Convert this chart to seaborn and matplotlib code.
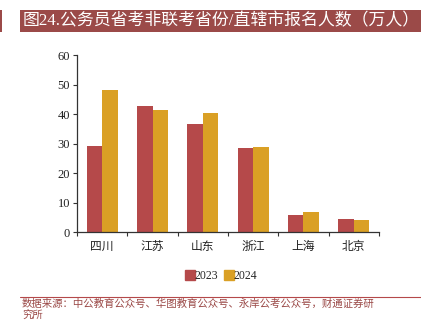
import matplotlib
matplotlib.use("Agg")
import matplotlib.pyplot as plt
from matplotlib.patches import Rectangle
from matplotlib.lines import Line2D
import seaborn as sns
import pandas as pd

provinces = ["四川", "江苏", "山东", "浙江", "上海", "北京"]
applicants_2023 = [29.2, 42.7, 36.5, 28.6, 5.6, 4.3]
applicants_2024 = [48.3, 41.3, 40.5, 28.7, 6.7, 4.1]
years = ["2023", "2024"]
colors = ["#b5494a", "#daa025"]

title = "图24.公务员省考非联考省份/直辖市报名人数（万人）"
source_lines = ["数据来源：中公教育公众号、华图教育公众号、永岸公考公众号，财通证券研",
                "究所"]

df = pd.DataFrame({
    "省份": provinces * 2,
    "年份": [years[0]] * len(provinces) + [years[1]] * len(provinces),
    "人数": applicants_2023 + applicants_2024,
})

sns.set_style("white")
plt.rcParams["font.family"] = ["Liberation Serif", "Noto Sans CJK SC", "DejaVu Sans"]

fig = plt.figure(figsize=(4.21, 3.22), dpi=100)
ax = fig.add_axes([0.183, 0.2795, 0.717, 0.5495])

sns.barplot(data=df, x="省份", y="人数", hue="年份", palette=colors,
            width=0.62, linewidth=0, saturation=1, ax=ax, legend=False)

ax.set_ylim(0, 60)
ax.set_yticks(range(0, 61, 10))
ax.set_xlim(-0.5, len(provinces) - 0.5)
ax.set_xlabel("")
ax.set_ylabel("")

# tick marks on category boundaries, labels centred under each group
ax.set_xticks([i - 0.5 for i in range(len(provinces) + 1)])
ax.set_xticklabels([])
ax.set_xticks(range(len(provinces)), minor=True)
ax.set_xticklabels(provinces, minor=True, fontsize=8.5, family=["Noto Sans CJK SC"], color="#222222")
ax.tick_params(axis="x", which="major", direction="out", length=3, width=0.8, color="#333333", bottom=True)
ax.tick_params(axis="x", which="minor", length=0, pad=6)
ax.tick_params(axis="y", direction="out", length=3, width=0.8, color="#333333", left=True,
               labelsize=9, labelcolor="#222222", pad=2)

for side in ["top", "right"]:
    ax.spines[side].set_visible(False)
for side in ["left", "bottom"]:
    ax.spines[side].set_color("#333333")
    ax.spines[side].set_linewidth(0.9)

handles = [Line2D([], [], marker="s", linestyle="", markersize=6.5, color=c) for c in colors]
fig.legend(handles, years, loc="center", bbox_to_anchor=(0.527, 0.143), ncol=2, frameon=False,
           fontsize=8.5, handlelength=0.6, handletextpad=0.1, columnspacing=0.6)

# title banner
fig.patches.append(Rectangle((0.0475, 0.8997), 0.96, 0.0693, transform=fig.transFigure,
                             facecolor="#9b4a48", edgecolor="none"))
fig.patches.append(Rectangle((0.0, 0.8997), 0.005, 0.0693, transform=fig.transFigure,
                             facecolor="#9b4a48", edgecolor="none"))
fig.text(0.053, 0.934, title, color="white", fontsize=12.2, va="center", ha="left")

# source note under a thin rule
fig.add_artist(Line2D([0.0475, 1.0], [0.078, 0.078], transform=fig.transFigure,
                      color="#b5494a", linewidth=0.8))
fig.text(0.052, 0.056, source_lines[0], color="#9b4a48", fontsize=7.5, va="center", ha="left",
         family=["Noto Sans CJK SC", "DejaVu Sans"])
fig.text(0.052, 0.018, source_lines[1], color="#9b4a48", fontsize=7.5, va="center", ha="left",
         family=["Noto Sans CJK SC", "DejaVu Sans"])

fig.savefig("out.png", dpi=100)
